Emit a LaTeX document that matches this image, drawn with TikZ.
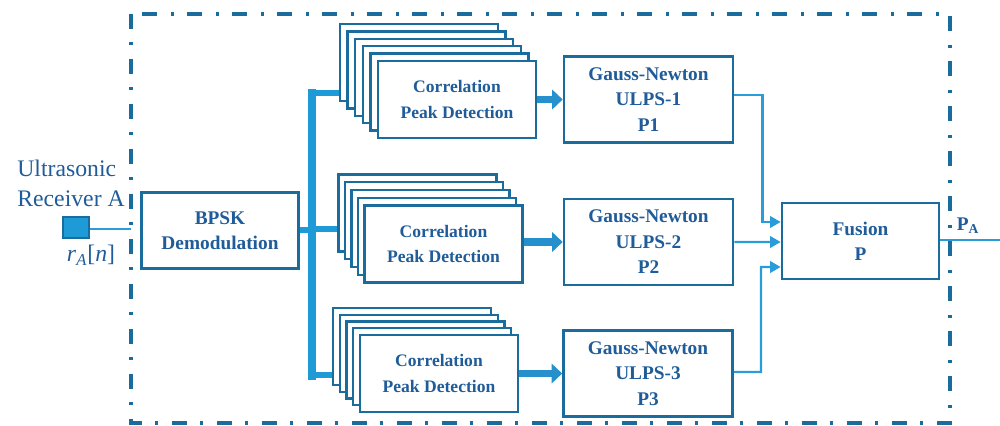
\documentclass[tikz,border=0pt]{standalone}
\usepackage{fontspec}
\setmainfont{Liberation Serif}
\usepackage{tikz}
\usetikzlibrary{arrows.meta, positioning, calc}
\definecolor{cedge}{HTML}{196C9C}
\definecolor{ctext}{HTML}{1F5C99}
\definecolor{cbus}{HTML}{1E9BD7}
\definecolor{cline}{HTML}{2A9CD9}
\definecolor{carrow}{HTML}{2690CD}

\begin{document}
\begin{tikzpicture}[
  box/.style={draw=cedge, line width=1.5pt, fill=white, minimum width=3.14cm, minimum height=1.52cm, align=center, text=ctext, font=\fontsize{11}{14}\selectfont\bfseries},
  gnbox/.style={box, minimum width=3.38cm, minimum height=1.72cm, font=\fontsize{11}{14.5}\selectfont\bfseries},
  stackbox/.style={box, minimum width=3.16cm, minimum height=1.54cm, line width=1.3pt, font=\fontsize{10}{14.5}\selectfont\bfseries},
  bus/.style={cbus, line width=3.6pt},
  fat/.style={-{Triangle[length=6pt, width=11pt]}, carrow, line width=4pt},
  arr/.style={-{Triangle[length=6pt, width=6.5pt]}, cline, line width=1.3pt}
]
  \useasboundingbox (0,0) rectangle (20,-8.52);

  % Outer frame
  \draw[cedge, line width=2.2pt, dash pattern=on 0.3cm off 0.26cm on 0.06cm off 0.28cm] (2.62,-0.28) rectangle (19.0,-8.46);

  % Receiver
  \node[font=\fontsize{13.5}{17}\selectfont, text=ctext, align=left, anchor=west, inner sep=0] (rxlabel) at (0.34,-3.66) {Ultrasonic\\Receiver A};
  \node[draw=cedge, line width=0.8pt, fill=cbus, minimum width=0.52cm, minimum height=0.42cm, inner sep=0] (rx) at (1.52,-4.55) {};
  \node[font=\fontsize{13.5}{16}\selectfont, text=ctext] (rxsig) at (1.82,-5.1) {\textit{r}\textsubscript{\textit{A}}[\textit{n}]};
  \coordinate (rxin) at (2.62,-4.58);
  \draw[cline, line width=1.6pt] (rx.east |- rxin) -- (rxin);

  % BPSK Demodulation
  \node[box] (bpsk) at (4.4,-4.61) {BPSK\\Demodulation};

  % Distribution bus
  \coordinate (bustop) at (6.24,-1.78);
  \coordinate (busbot) at (6.24,-7.6);
  \draw[bus, line width=4.8pt] (bustop) -- (busbot);
  \draw[bus] (bpsk.east |- 0,-4.6) -- (6.24,-4.6);

  % Correlation stacks
  \foreach \i in {5,4,...,1}
    \node[stackbox] (cpd1-\i) at (9.14-0.152*\i, -1.99+0.148*\i) {};
  \node[stackbox] (cpd1) at (9.14,-1.99) {Correlation\\Peak Detection};

  \foreach \i in {4,3,...,1}
    \node[stackbox] (cpd2-\i) at (8.87-0.13*\i, -4.88+0.155*\i) {};
  \node[stackbox] (cpd2) at (8.87,-4.88) {Correlation\\Peak Detection};

  \foreach \i in {4,3,...,1}
    \node[stackbox] (cpd3-\i) at (8.78-0.135*\i, -7.47+0.135*\i) {};
  \node[stackbox] (cpd3) at (8.78,-7.47) {Correlation\\Peak Detection};

  % Bus to stacks
  \coordinate (b1) at (6.24,-1.86);
  \coordinate (b2) at (6.24,-4.58);
  \coordinate (b3) at (6.24,-7.5);
  \draw[bus] (b1) -- (b1 -| cpd1-5.west);
  \draw[bus] (b2) -- (b2 -| cpd2-4.west);
  \draw[bus] (b3) -- (b3 -| cpd3-4.west);

  % Gauss-Newton solvers
  \node[gnbox] (gn1) at (12.97,-1.99) {Gauss-Newton\\ULPS-1\\P1};
  \node[gnbox] (gn2) at (12.97,-4.84) {Gauss-Newton\\ULPS-2\\P2};
  \node[gnbox] (gn3) at (12.96,-7.47) {Gauss-Newton\\ULPS-3\\P3};

  \draw[fat] (cpd1.east) -- (gn1.west);
  \draw[fat] (cpd2.east |- gn2.west) -- (gn2.west);
  \draw[fat] (cpd3.east) -- (gn3.west);

  % Fusion
  \node[box] (fus) at (17.21,-4.82) {Fusion\\P};

  \draw[arr] ([yshift=0.09cm]gn1.east) -| (15.25,-4.44) -- ([yshift=0.38cm]fus.west);
  \draw[arr] (gn2.east) -- ([yshift=-0.02cm]fus.west);
  \draw[arr] ([yshift=0.03cm]gn3.east) -| (15.22,-5.34) -- ([yshift=-0.52cm]fus.west);

  % Output
  \coordinate (out) at (20,-4.8);
  \draw[cline, line width=1.6pt] (fus.east |- out) -- (out);
  \node[text=ctext, font=\fontsize{11}{13}\selectfont\bfseries] (pa) at (19.36,-4.52) {P\textsubscript{A}};

\end{tikzpicture}
\end{document}
